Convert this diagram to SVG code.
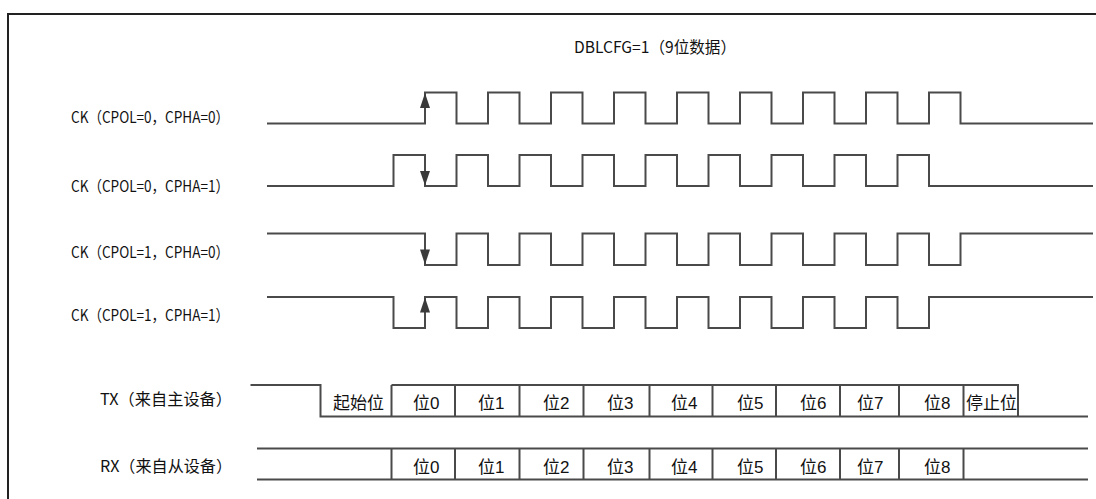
<svg xmlns="http://www.w3.org/2000/svg" width="1096" height="499" viewBox="0 0 1096 499">
<style>
.frame{fill:none;stroke:#222;stroke-width:2}
.wave{fill:none;stroke:#4a4a4a;stroke-width:2}
.arr{fill:#3a3a3a;stroke:none}
.lbl{font-family:"Noto Sans CJK SC","Liberation Sans",sans-serif;font-size:16px;fill:#111}
.bit{font-family:"Liberation Sans","Noto Sans CJK SC",sans-serif;font-size:17px;fill:#111}
</style>
<rect width="1096" height="499" fill="#fff"/>
<path class="frame" d="M8,499 V14 H1096"/>
<text class="lbl" x="574" y="53" textLength="162" lengthAdjust="spacingAndGlyphs">DBLCFG=1（9位数据）</text>
<g id="ck00">
<text class="lbl" x="71" y="123" textLength="158" lengthAdjust="spacingAndGlyphs">CK（CPOL=0，CPHA=0）</text>
<path class="wave" d="M267,123.5 H425 V92.5 H456.5 V123.5 H488 V92.5 H519.5 V123.5 H551 V92.5 H582.5 V123.5 H614 V92.5 H645.5 V123.5 H677 V92.5 H708.5 V123.5 H740 V92.5 H771.5 V123.5 H803 V92.5 H834.5 V123.5 H866 V92.5 H897.5 V123.5 H929 V92.5 H960.5 V123.5 H1093"/>
<polygon class="arr" points="425,93 420,108 430,108"/>
</g>
<g id="ck01">
<text class="lbl" x="71" y="192" textLength="158" lengthAdjust="spacingAndGlyphs">CK（CPOL=0，CPHA=1）</text>
<path class="wave" d="M267,186 H393.5 V155 H425 V186 H456.5 V155 H488 V186 H519.5 V155 H551 V186 H582.5 V155 H614 V186 H645.5 V155 H677 V186 H708.5 V155 H740 V186 H771.5 V155 H803 V186 H834.5 V155 H866 V186 H897.5 V155 H929 V186 H1093"/>
<polygon class="arr" points="425,185.5 420,171 430,171"/>
</g>
<g id="ck10">
<text class="lbl" x="71" y="258" textLength="158" lengthAdjust="spacingAndGlyphs">CK（CPOL=1，CPHA=0）</text>
<path class="wave" d="M267,233.5 H425 V265 H456.5 V233.5 H488 V265 H519.5 V233.5 H551 V265 H582.5 V233.5 H614 V265 H645.5 V233.5 H677 V265 H708.5 V233.5 H740 V265 H771.5 V233.5 H803 V265 H834.5 V233.5 H866 V265 H897.5 V233.5 H929 V265 H960.5 V233.5 H1093"/>
<polygon class="arr" points="425,264.5 420,249.5 430,249.5"/>
</g>
<g id="ck11">
<text class="lbl" x="71" y="321" textLength="158" lengthAdjust="spacingAndGlyphs">CK（CPOL=1，CPHA=1）</text>
<path class="wave" d="M267,297 H393.5 V328 H425 V297 H456.5 V328 H488 V297 H519.5 V328 H551 V297 H582.5 V328 H614 V297 H645.5 V328 H677 V297 H708.5 V328 H740 V297 H771.5 V328 H803 V297 H834.5 V328 H866 V297 H897.5 V328 H929 V297 H1093"/>
<polygon class="arr" points="425,297.5 420,312.5 430,312.5"/>
</g>
<g id="tx">
<text class="lbl" x="100" y="405" textLength="132" lengthAdjust="spacingAndGlyphs">TX（来自主设备）</text>
<path class="wave" d="M250.5,385 H320.5 V416.5 H1088 M391.5,385 H1018 V416.5 M391.5,385 V416.5 M455,385 V416.5 M519.5,385 V416.5 M583.5,385 V416.5 M649.5,385 V416.5 M712.5,385 V416.5 M776,385 V416.5 M840,385 V416.5 M899,385 V416.5 M963.5,385 V416.5"/>
<text class="bit" x="333" y="409">起始位</text>
<text class="bit" x="413" y="409">位0</text>
<text class="bit" x="478" y="409">位1</text>
<text class="bit" x="543" y="409">位2</text>
<text class="bit" x="607" y="409">位3</text>
<text class="bit" x="671" y="409">位4</text>
<text class="bit" x="737" y="409">位5</text>
<text class="bit" x="800" y="409">位6</text>
<text class="bit" x="857" y="409">位7</text>
<text class="bit" x="924" y="409">位8</text>
<text class="bit" x="966" y="409">停止位</text>
</g>
<g id="rx">
<text class="lbl" x="100" y="472" textLength="132" lengthAdjust="spacingAndGlyphs">RX（来自从设备）</text>
<path class="wave" d="M257,448.5 H1088 M257,479.5 H1088 M391.5,448.5 V479.5 M455,448.5 V479.5 M519.5,448.5 V479.5 M583.5,448.5 V479.5 M649.5,448.5 V479.5 M712.5,448.5 V479.5 M776,448.5 V479.5 M840,448.5 V479.5 M899,448.5 V479.5 M963.5,448.5 V479.5"/>
<text class="bit" x="413" y="473">位0</text>
<text class="bit" x="478" y="473">位1</text>
<text class="bit" x="543" y="473">位2</text>
<text class="bit" x="607" y="473">位3</text>
<text class="bit" x="671" y="473">位4</text>
<text class="bit" x="737" y="473">位5</text>
<text class="bit" x="800" y="473">位6</text>
<text class="bit" x="857" y="473">位7</text>
<text class="bit" x="924" y="473">位8</text>
</g>
</svg>
